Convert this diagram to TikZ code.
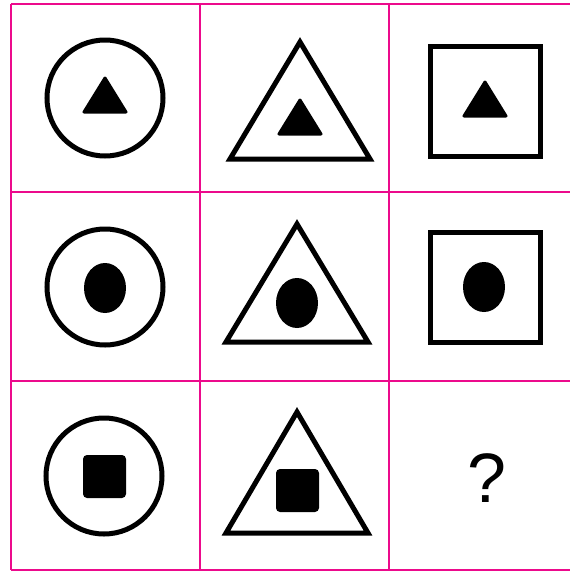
\documentclass[tikz,border=0pt]{standalone}
\usepackage{fontspec}
\setmainfont{Liberation Sans}
\usepackage{xcolor}
\definecolor{gridpink}{HTML}{EC0A8C}
\usetikzlibrary{positioning,calc}
\tikzset{
  gl/.style={draw=gridpink, line width=2.2pt},
  outl/.style={draw=black, line width=5pt, line join=miter},
  tri/.style={fill=black, draw=black, line width=3pt, line join=round},
  blob/.style={fill=black},
  blk/.style={fill=black, rounded corners=4pt},
}

\begin{document}
\begin{tikzpicture}[x=1pt, y=-1pt]
  \useasboundingbox (0,0) rectangle (570,571);
  % grid
  \foreach \gx in {11,200,389} \draw[gl] (\gx,4) -- (\gx,570);
  \foreach \gy in {4,192,381,570} \draw[gl] (11,\gy) -- (570,\gy);
  % row 1
  \draw[outl] (105,98) circle (58);
  \filldraw[tri] (105,78) -- (126,112) -- (84,112) -- cycle;
  \draw[outl] (300,42) -- (370,159) -- (230,159) -- cycle;
  \filldraw[tri] (300,100) -- (321,134) -- (279,134) -- cycle;
  \draw[outl] (430.5,46.5) rectangle (540.5,156.5);
  \filldraw[tri] (485,82) -- (506,116) -- (464,116) -- cycle;
  % row 2
  \draw[outl] (105,287) circle (58);
  \fill[blob] (105,288) ellipse (21 and 25);
  \draw[outl] (297,224) -- (368,342) -- (226,342) -- cycle;
  \fill[blob] (297,303) ellipse (21 and 25);
  \draw[outl] (430.5,232.5) rectangle (540.5,342.5);
  \fill[blob] (484,287) ellipse (21 and 25);
  % row 3
  \draw[outl] (104,476) circle (58);
  \fill[blk] (83,455) rectangle (126,498);
  \draw[outl] (297,412) -- (368,533) -- (226,533) -- cycle;
  \fill[blk] (276,469) rectangle (319,512);
  \node[font=\fontsize{70}{70}\selectfont] (q) at (487,478) {?};
\end{tikzpicture}
\end{document}
